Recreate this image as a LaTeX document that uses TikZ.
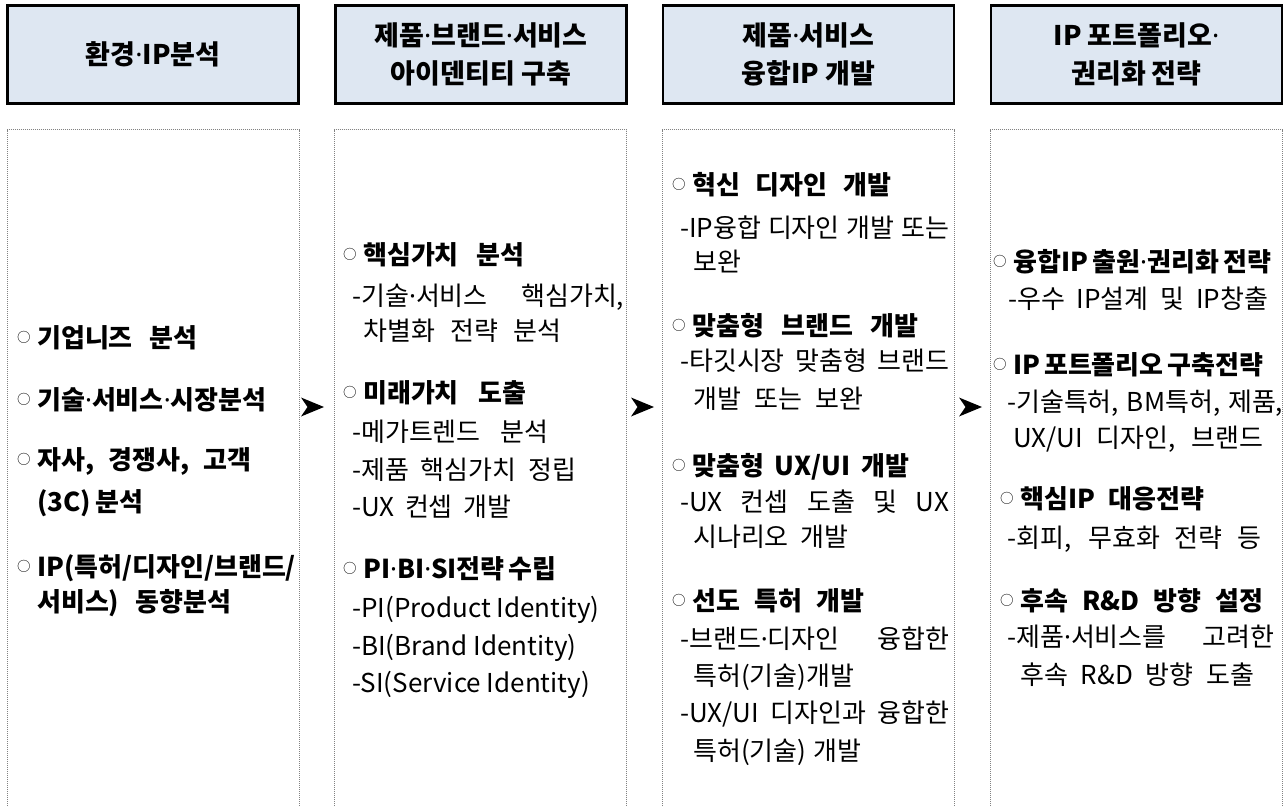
\documentclass[tikz,border=0pt]{standalone}
\usepackage{fontspec}
\setmainfont{Noto Sans CJK KR}
\newfontfamily\latinfont{Noto Sans}
\definecolor{hdrfill}{RGB}{222,231,242}
\definecolor{framegray}{RGB}{130,130,130}
\newcommand\bodyfont{\fontsize{26}{26}\selectfont}
\newcommand\hdrfont{\fontsize{27}{38}\selectfont\bfseries}
\newcommand\md{{\latinfont ·}}
\newcommand\ob{\llap{\raisebox{5pt}{\fontsize{13.5}{13.5}\selectfont\mdseries ○}\hspace{6.5pt}}}
\newcommand\jl[2]{\makebox[#1pt][s]{#2}}
\tikzset{
  hdr/.style={draw=black, line width=2.7pt, fill=hdrfill, inner sep=0pt, align=center,
    font=\hdrfont, minimum width=291pt, minimum height=98pt},
  body/.style={anchor=base west, inner sep=0pt, font=\bodyfont},
  ttl/.style={anchor=base west, inner sep=0pt, font=\bodyfont\bfseries},
  frame/.style={draw=framegray, line width=0.9pt, dash pattern=on 1pt off 1pt},
  tipshape/.style={fill=black}
}
\begin{document}
\begin{tikzpicture}[x=1pt,y=-1pt]
\useasboundingbox (0,0) rectangle (1285,806);

% headers
\node[hdr] (h1) at (153,54.4) {환경\md IP분석};
\node[hdr] (h2) at (481,54.4) {제품\md 브랜드\md 서비스\\아이덴티티 구축};
\node[hdr] (h3) at (808.5,54.4) {제품\md 서비스\\융합IP 개발};
\node[hdr] (h4) at (1136.5,54.4) {IP 포트폴리오\md\\권리화 전략};

% column frames (open at the bottom)
\draw[frame] (7,806) -- (7,129.5) -- (299,129.5) -- (299,806);
\draw[frame] (334,806) -- (334,129.5) -- (626.5,129.5) -- (626.5,806);
\draw[frame] (662,806) -- (662,129.5) -- (954,129.5) -- (954,806);
\draw[frame] (990,806) -- (990,129.5) -- (1282,129.5) -- (1282,806);

% arrow tips between columns
\coordinate (a1) at (324,407);
\coordinate (a2) at (654,407);
\coordinate (a3) at (982,407);
\foreach \a in {a1,a2,a3}{
  \fill[tipshape] (\a) -- ++(-23,-9.5) -- ++(6.5,9.5) -- ++(-6.5,9.5) -- cycle;
}

% column 1
\node[ttl] (c1l1) at (37,347) {\ob\jl{160}{기업니즈 분석}};
\node[ttl] (c1l2) at (37,409) {\ob 기술\md 서비스\md 시장분석};
\node[ttl] (c1l3) at (37,469) {\ob\jl{214}{자사, 경쟁사, 고객}};
\node[ttl] (c1l4) at (37,511) {\jl{102}{(3C) 분석}};
\node[ttl] (c1l5) at (37,576) {\ob IP(특허/디자인/브랜드/};
\node[ttl] (c1l6) at (37,611) {\jl{194}{서비스) 동향분석}};

% column 2
\node[ttl] (c2l1) at (363,264) {\ob\jl{161}{핵심가치 분석}};
\node[body] (c2l2) at (352,305) {\jl{272}{-기술\md 서비스 핵심가치,}};
\node[body] (c2l3) at (363,340) {\jl{198}{차별화 전략 분석}};
\node[ttl] (c2l4) at (363,402) {\ob\jl{163}{미래가치 도출}};
\node[body] (c2l5) at (352,441) {\jl{196}{-메가트렌드 분석}};
\node[body] (c2l6) at (352,479) {\jl{224}{-제품 핵심가치 정립}};
\node[body] (c2l7) at (352,516) {\jl{159}{-UX 컨셉 개발}};
\node[ttl] (c2l8) at (363,578) {\ob\jl{186}{PI\md BI\md SI전략 수립}};
\node[body] (c2l9) at (352,617) {-PI(Product Identity)};
\node[body] (c2l10) at (352,655) {-BI(Brand Identity)};
\node[body] (c2l11) at (352,692) {-SI(Service Identity)};

% column 3
\node[ttl] (c3l1) at (692,194) {\ob\jl{199}{혁신 디자인 개발}};
\node[body] (c3l2) at (680,237) {\jl{269}{-IP융합 디자인 개발 또는}};
\node[body] (c3l3) at (693,271) {보완};
\node[ttl] (c3l4) at (692,335) {\ob\jl{226}{맞춤형 브랜드 개발}};
\node[body] (c3l5) at (680,370) {\jl{269}{-타깃시장 맞춤형 브랜드}};
\node[body] (c3l6) at (693,408) {\jl{170}{개발 또는 보완}};
\node[ttl] (c3l7) at (692,475) {\ob\jl{217}{맞춤형 UX/UI 개발}};
\node[body] (c3l8) at (680,511) {\jl{269}{-UX 컨셉 도출 및 UX}};
\node[body] (c3l9) at (693,546) {\jl{155}{시나리오 개발}};
\node[ttl] (c3l10) at (692,610) {\ob\jl{172}{선도 특허 개발}};
\node[body] (c3l11) at (680,648) {\jl{269}{-브랜드\md 디자인 융합한}};
\node[body] (c3l12) at (693,685) {특허(기술)개발};
\node[body] (c3l13) at (680,722) {\jl{269}{-UX/UI 디자인과 융합한}};
\node[body] (c3l14) at (693,760) {\jl{168}{특허(기술) 개발}};

% column 4
\node[ttl] (c4l1) at (1013,271) {\ob\jl{258}{융합IP 출원\md 권리화 전략}};
\node[body] (c4l2) at (1008,308) {\jl{260}{-우수 IP설계 및 IP창출}};
\node[ttl] (c4l3) at (1013,374) {\ob\jl{250}{IP 포트폴리오 구축전략}};
\node[body] (c4l4) at (1007,411) {\jl{276}{-기술특허, BM특허, 제품,}};
\node[body] (c4l5) at (1013,447) {\jl{250}{UX/UI 디자인, 브랜드}};
\node[ttl] (c4l6) at (1020,508) {\ob\jl{184}{핵심IP 대응전략}};
\node[body] (c4l7) at (1007,547) {\jl{254}{-회피, 무효화 전략 등}};
\node[ttl] (c4l8) at (1020,610) {\ob\jl{243}{후속 R\&D 방향 설정}};
\node[body] (c4l9) at (1007,646) {\jl{267}{-제품\md 서비스를 고려한}};
\node[body] (c4l10) at (1020,684) {\jl{234}{후속 R\&D 방향 도출}};
\end{tikzpicture}
\end{document}
